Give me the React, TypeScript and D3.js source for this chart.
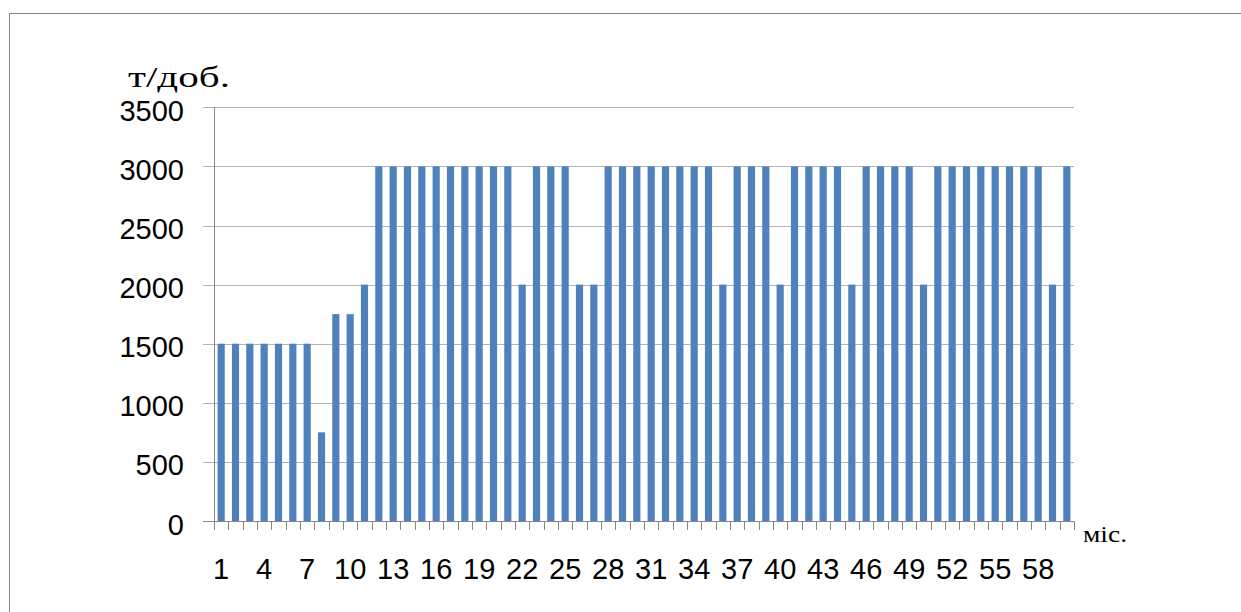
import React from "react";
import * as d3 from "d3";

const months: number[] = Array.from({ length: 60 }, (_, i) => i + 1);
const values: number[] = [
  1500, 1500, 1500, 1500, 1500, 1500, 1500, 750, 1750, 1750,
  2000, 3000, 3000, 3000, 3000, 3000, 3000, 3000, 3000, 3000,
  3000, 2000, 3000, 3000, 3000, 2000, 2000, 3000, 3000, 3000,
  3000, 3000, 3000, 3000, 3000, 2000, 3000, 3000, 3000, 2000,
  3000, 3000, 3000, 3000, 2000, 3000, 3000, 3000, 3000, 2000,
  3000, 3000, 3000, 3000, 3000, 3000, 3000, 3000, 2000, 3000,
];
const yTicks: number[] = [0, 500, 1000, 1500, 2000, 2500, 3000, 3500];
const xTickLabels: number[] = months.filter((m) => (m - 1) % 3 === 0);
const yTitle = "т/доб.";
const xTitle = "міс.";

export default function App() {
  const W = 1241;
  const H = 612;
  const left = 214;
  const right = 1074;
  const top = 107.3;
  const bottom = 521;

  const x = d3
    .scaleBand<number>()
    .domain(months)
    .range([left, right])
    .paddingInner(0.5)
    .paddingOuter(0.25);
  const step = (right - left) / months.length;
  const y = d3.scaleLinear().domain([0, 3500]).range([bottom, top]);

  const sans = "'Liberation Sans', Arial, sans-serif";
  const serif = "'Liberation Serif', 'Times New Roman', serif";

  return (
    <svg
      width={W}
      height={H}
      style={{ position: "absolute", left: 0, top: 0, display: "block", background: "#fff" }}
    >
      <rect x={9.5} y={13.5} width={W + 20} height={H + 20} fill="#fff" stroke="#868686" strokeWidth={1} />
      {yTicks.map((t) => (
        <line
          key={"g" + t}
          x1={203}
          x2={right}
          y1={Math.round(y(t)) + 0.5}
          y2={Math.round(y(t)) + 0.5}
          stroke={t === 0 ? "#868686" : "#b3b3b3"}
          strokeWidth={1}
        />
      ))}
      {values.map((v, i) => (
        <rect
          key={"b" + i}
          x={x(months[i])}
          y={y(v)}
          width={x.bandwidth()}
          height={bottom - y(v)}
          fill="#4f81bd"
        />
      ))}
      <line x1={left + 0.5} x2={left + 0.5} y1={top} y2={bottom + 9} stroke="#868686" strokeWidth={1} />
      {d3.range(months.length + 1).map((k) => (
        <line
          key={"t" + k}
          x1={Math.round(left + k * step) + 0.5}
          x2={Math.round(left + k * step) + 0.5}
          y1={bottom}
          y2={bottom + 9}
          stroke="#868686"
          strokeWidth={1}
        />
      ))}
      {yTicks.map((t) => (
        <text
          key={"yl" + t}
          x={184}
          y={y(t) + 13.5}
          textAnchor="end"
          fontFamily={sans}
          fontSize={29}
          fill="#000"
        >
          {t}
        </text>
      ))}
      {xTickLabels.map((m) => (
        <text
          key={"xl" + m}
          x={(x(m) as number) + x.bandwidth() / 2}
          y={579}
          textAnchor="middle"
          fontFamily={sans}
          fontSize={29}
          fill="#000"
        >
          {m}
        </text>
      ))}
      <text
        x={128}
        y={87}
        fontFamily={serif}
        fontSize={30}
        textLength={102}
        lengthAdjust="spacingAndGlyphs"
        fill="#000"
      >
        {yTitle}
      </text>
      <text
        x={1083}
        y={542}
        fontFamily={serif}
        fontSize={24}
        textLength={44}
        lengthAdjust="spacingAndGlyphs"
        fill="#000"
      >
        {xTitle}
      </text>
    </svg>
  );
}
